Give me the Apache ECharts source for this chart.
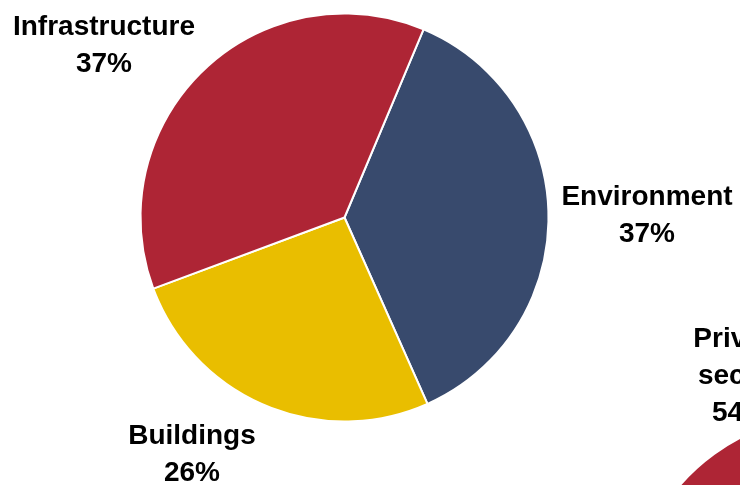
<!DOCTYPE html>
<html>
<head>
<meta charset="utf-8">
<script src="https://cdn.jsdelivr.net/npm/echarts@6/dist/echarts.min.js"></script>
<style>
  html, body { margin: 0; padding: 0; background: #fff; }
  #main { width: 740px; height: 485px; }
</style>
</head>
<body>
<div id="main"></div>
<script>
// left pie (clockwise from the top-right boundary)
var sectors = ['Environment', 'Buildings', 'Infrastructure'];
var shares = [37, 26, 37];
var sectorColors = ['#384A6D', '#E9BE00', '#AE2535'];

// right pie, mostly cut off by the frame
var owners = ['Public\nsector', 'Private\nsector'];
var ownerShares = [46, 54];
var ownerColors = ['#384A6D', '#AE2535'];

// where the labels sit (centre of the text block)
var sectorLabelPos = [[647, 216], [192, 455], [104, 46]];
var ownerLabelPos = [null, [740, 376]];

var labelStyle = {
  show: true,
  position: 'inside',
  overflow: 'none',
  color: '#000',
  fontFamily: 'Liberation Sans, Arial, sans-serif',
  fontWeight: 'bold',
  fontSize: 28,
  lineHeight: 37,
  align: 'center',
  formatter: '{b}\n{d}%'
};

var chart = echarts.init(document.getElementById('main'));

var option = {
  animation: false,
  backgroundColor: '#fff',
  series: [
    {
      type: 'pie',
      center: [344.5, 217.5],
      radius: 204,
      startAngle: 67.2,
      clockwise: true,
      label: labelStyle,
      labelLine: { show: false },
      labelLayout: function (p) {
        var pos = sectorLabelPos[p.dataIndex];
        return { x: pos[0], y: pos[1], align: 'center', verticalAlign: 'middle', hideOverlap: false };
      },
      itemStyle: { borderColor: '#fff', borderWidth: 2 },
      emphasis: { disabled: true },
      data: sectors.map(function (n, i) {
        return { name: n, value: shares[i], itemStyle: { color: sectorColors[i] } };
      })
    },
    {
      type: 'pie',
      center: [834, 619],
      radius: 204,
      startAngle: 90,
      clockwise: true,
      label: labelStyle,
      labelLine: { show: false },
      labelLayout: function (p) {
        var pos = ownerLabelPos[p.dataIndex];
        if (!pos) return { x: -500, y: -500 };
        return { x: pos[0], y: pos[1], align: 'center', verticalAlign: 'middle', hideOverlap: false };
      },
      itemStyle: { borderColor: '#fff', borderWidth: 2 },
      emphasis: { disabled: true },
      data: owners.map(function (n, i) {
        return { name: n, value: ownerShares[i], itemStyle: { color: ownerColors[i] } };
      })
    }
  ]
};

chart.setOption(option);
</script>
</body>
</html>
